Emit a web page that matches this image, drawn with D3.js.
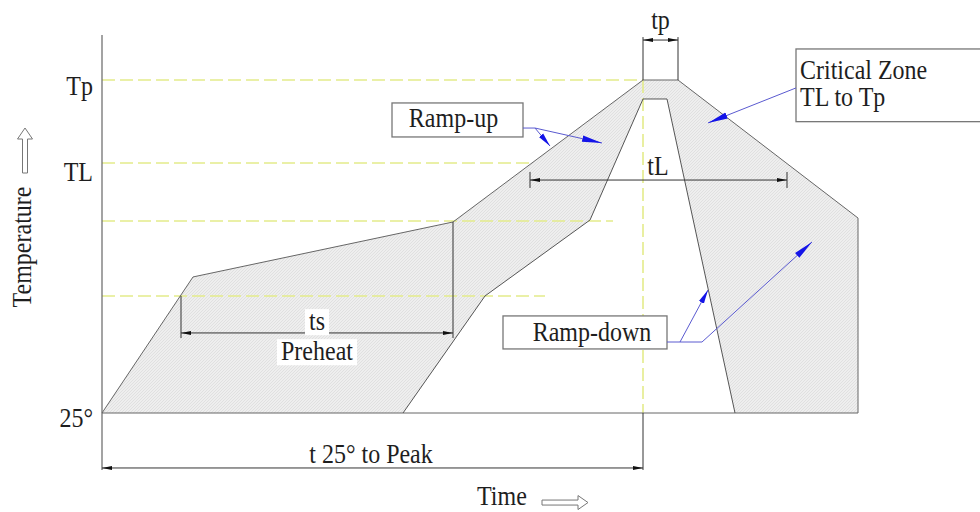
<!DOCTYPE html>
<html><head><meta charset="utf-8">
<script src="https://cdn.jsdelivr.net/npm/d3@7"></script>
<style>
body{margin:0;background:#fff}
svg{display:block}
text{font-family:"Liberation Serif","Times New Roman",serif;fill:#1e1e1e;font-size:24px}
</style>
</head><body>
<svg id="c" width="980" height="512"></svg>
<script>
// ---- data (time in s, temperature in °C) ----
const timeDomain = [0, 378];
const tempDomain = [25, 260];
const upperProfileTime = [0, 45.5, 175.5, 270.5, 288, 378, 378];
const upperProfileTemp = [25, 121, 159.8, 260, 260, 162.6, 25];
const lowerProfileTime = [150.5, 191.5, 244, 270.5, 282.5, 316.5];
const lowerProfileTemp = [25, 107.6, 161.2, 246.6, 246.6, 25];
const levelNames = ["Tp", "TL", "Tsmax", "Tsmin"];
const levelTemps = [260, 201.4, 160.5, 107.6];
const levelEndTimes = [270.5, 214, 255.5, 221.5];
const tickLabels = ["Tp", "TL", "25°"];
const tickTemps = [260, 201.4, 25];
const peakTime = 270.5;

const TEXT_STRETCH = 1.1;            // reference font is a bit taller than Liberation Serif
const tickLabelDrop = [15, 18, 14];  // px below the level line (style)

const svg = d3.select("#c");
const x = d3.scaleLinear().domain(timeDomain).range([102, 858]);
const y = d3.scaleLinear().domain(tempDomain).range([413, 80]);

const defs = svg.append("defs");
const pat = defs.append("pattern").attr("id","hatch").attr("patternUnits","userSpaceOnUse")
  .attr("width",3).attr("height",3);
pat.append("rect").attr("width",3).attr("height",3).attr("fill","#eeeeee");
pat.append("path").attr("d","M0,3 L3,0").attr("stroke","#dcdcdc").attr("stroke-width",0.8);

function marker(id, d, len, color){
  defs.append("marker").attr("id",id).attr("markerUnits","userSpaceOnUse")
    .attr("viewBox",`0 -5 ${len} 10`).attr("refX",len).attr("refY",0)
    .attr("markerWidth",len).attr("markerHeight",10).attr("orient","auto-start-reverse")
    .append("path").attr("d",d).attr("fill",color);
}
marker("dim","M0,-2 L10,0 L0,2 Z",10,"#111");
marker("blueL","M0,-3.2 L20,0 L0,3.2 Z",20,"#1414e8");
marker("blueS","M0,-2.8 L14,0 L0,2.8 Z",14,"#1414e8");

const line = d3.line().x(d=>x(d[0])).y(d=>y(d[1]));
const upper = upperProfileTime.map((t,i)=>[t, upperProfileTemp[i]]);
const lower = lowerProfileTime.map((t,i)=>[t, lowerProfileTemp[i]]);

// shaded band between the two profiles
svg.append("path").attr("d", line(upper)+"Z"+line(lower)+"Z")
  .attr("fill","url(#hatch)").attr("fill-rule","evenodd").attr("stroke","none");

// yellow dashed reference levels
svg.append("g").selectAll("line").data(levelNames).join("line")
  .attr("x1",x(0)).attr("x2",(d,i)=>x(levelEndTimes[i]))
  .attr("y1",(d,i)=>y(levelTemps[i])).attr("y2",(d,i)=>y(levelTemps[i]))
  .attr("stroke","#e4ec8a").attr("stroke-width",1.6).attr("stroke-dasharray","13,5");
svg.append("line").attr("x1",x(peakTime)).attr("x2",x(peakTime))
  .attr("y1",y(260)).attr("y2",y(25))
  .attr("stroke","#e4ec8a").attr("stroke-width",1.6).attr("stroke-dasharray","13,5");

// profile outlines
svg.append("path").attr("d", line(upper)+"Z").attr("fill","none").attr("stroke","#666").attr("stroke-width",1);
svg.append("path").attr("d", line(lower)).attr("fill","none").attr("stroke","#555").attr("stroke-width",1);

// vertical axis line
svg.append("line").attr("x1",x(0)).attr("x2",x(0)).attr("y1",y(291.8)).attr("y2",y(-15.2))
  .attr("stroke","#666").attr("stroke-width",1.2);

// text helper (slightly stretched vertically)
function textAt(px,py,txt,anchor="middle",bg=false){
  const g = svg.append("g").attr("transform",`translate(${px},${py}) scale(1,${TEXT_STRETCH})`);
  const el = g.append("text").attr("x",0).attr("y",0).attr("text-anchor",anchor).text(txt);
  if(bg){
    const b = el.node().getBBox();
    g.insert("rect","text").attr("x",b.x-4).attr("y",b.y+2).attr("width",b.width+8).attr("height",b.height-2)
      .attr("fill","#fff");
  }
  return g;
}
function label(txt,t,T,anchor="middle",bg=false){ return textAt(x(t),y(T),txt,anchor,bg); }

// tick labels
tickLabels.forEach((d,i)=>textAt(x(0)-9, y(tickTemps[i])+tickLabelDrop[i], d, "end"));

// dimension helpers
function seg(t1,T1,t2,T2,opts={}){
  const l = svg.append("line").attr("x1",x(t1)).attr("y1",y(T1)).attr("x2",x(t2)).attr("y2",y(T2))
    .attr("stroke",opts.color||"#333").attr("stroke-width",opts.w||1);
  if(opts.both){ l.attr("marker-start","url(#dim)").attr("marker-end","url(#dim)"); }
  if(opts.end){ l.attr("marker-end",`url(#${opts.end})`); }
  return l;
}
// tp
seg(270.5,290.3,270.5,260); seg(288,290.3,288,260);
seg(270.5,288.2,288,288.2,{both:true});
// tL
seg(214,195.1,214,183.8); seg(342.5,195.1,342.5,183.8);
seg(214,189.4,342.5,189.4,{both:true});
// ts
seg(39.5,107.6,39.5,77.9); seg(175.5,159.8,175.5,77.9);
seg(39.5,81.5,175.5,81.5,{both:true});
// t25 to peak
seg(peakTime,25,peakTime,-15.2);
seg(0,-13.8,peakTime,-13.8,{both:true});

label("tp",279.25,296.0);
label("tL",278,193.0);
label("ts",107.5,83.6,"middle",true);
label("Preheat",107.5,62.4,"middle",true);
label("t 25° to Peak",134.5,-10.3);

// annotation boxes
function box(t1,T1,t2,T2){
  svg.append("rect").attr("x",x(t1)).attr("y",y(T1)).attr("width",x(t2)-x(t1)).attr("height",y(T2)-y(T1))
    .attr("fill","#fff").attr("stroke","#777").attr("stroke-width",1.3);
}
box(145,243.8,210.5,219.8);
label("Ramp-up",175.75,226.8);
box(347,281.9,444,230.6);
label("Critical Zone",349,260.7,"start");
label("TL to Tp",349,241.3,"start");
box(200.5,93.5,282.5,70.2);
label("Ramp-down",245,75.8);

// blue leaders
const lc = "#5a5ad0";
seg(210.5,226.1,216.5,226.1,{color:lc});
seg(216.5,226.1,224,213.4,{color:lc,end:"blueS"});
seg(216.5,226.1,250,215.5,{color:lc,end:"blueL"});
seg(347,254.4,303,229.7,{color:lc,end:"blueL"});
seg(282.5,75.1,300,75.1,{color:lc});
seg(289,75.1,303,111.8,{color:lc,end:"blueS"});
seg(300,75.1,355,145.7,{color:lc,end:"blueL"});

// axis titles with outline arrows
svg.append("g").attr("transform",`translate(${x(0)-71},247) rotate(-90) scale(1,${TEXT_STRETCH})`)
  .append("text").attr("text-anchor","middle").text("Temperature");
const ax = 25;
svg.append("path").attr("d",`M${ax},128 L${ax+7.5},139 L${ax+2.5},139 L${ax+2.5},173 L${ax-2.5},173 L${ax-2.5},139 L${ax-7.5},139 Z`)
  .attr("fill","#fff").attr("stroke","#777").attr("stroke-width",1);
label("Time",187.5,-39.9,"start");
const bx = x(220), by = y(-38.2);
svg.append("path").attr("d",`M${bx},${by-2.5} L${bx+36},${by-2.5} L${bx+36},${by-7} L${bx+46},${by} L${bx+36},${by+7} L${bx+36},${by+2.5} L${bx},${by+2.5} Z`)
  .attr("fill","#fff").attr("stroke","#777").attr("stroke-width",1);
</script>
</body></html>
